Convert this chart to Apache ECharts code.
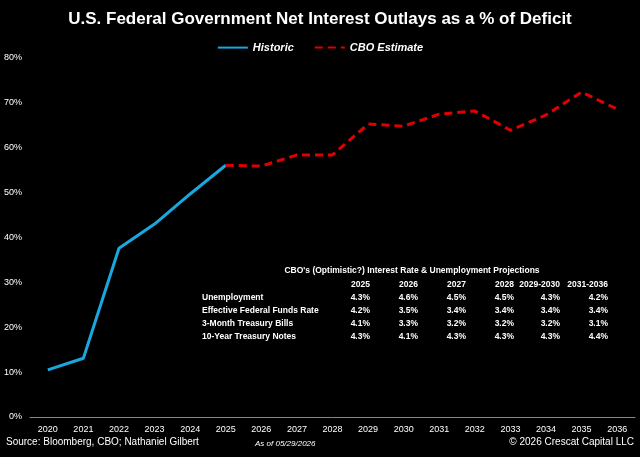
<!DOCTYPE html><html><head><meta charset="utf-8"><script src="https://cdn.jsdelivr.net/npm/echarts@6/dist/echarts.min.js"></script>
<style>body{margin:0;background:#000}#c{width:640px;height:457px}</style></head><body><div id="c"></div><script>
const years=['2020','2021','2022','2023','2024','2025','2026','2027','2028','2029','2030','2031','2032','2033','2034','2035','2036'];
const historic=[10.5,13.1,37.6,43,49.7,56.1,null,null,null,null,null,null,null,null,null,null,null];
const cbo=[null,null,null,null,null,56.1,55.9,58.4,58.4,65.3,64.8,67.5,68.2,63.9,67.3,72.4,68.6];
const tblCols=['2025','2026','2027','2028','2029-2030','2031-2036'];
const tblRows=['Unemployment','Effective Federal Funds Rate','3-Month Treasury Bills','10-Year Treasury Notes'];
const tblVals=[['4.3%','4.6%','4.5%','4.5%','4.3%','4.2%'],['4.2%','3.5%','3.4%','3.4%','3.4%','3.4%'],['4.1%','3.3%','3.2%','3.2%','3.2%','3.1%'],['4.3%','4.1%','4.3%','4.3%','4.3%','4.4%']];
const F='Liberation Sans, sans-serif';
const colX=[370,418,466,514,560,608];
const g=[{type:'text',x:412,y:266,style:{text:"CBO's (Optimistic?) Interest Rate & Unemployment Projections",fill:'#fff',font:'bold 8.5px '+F,align:'center'}}];
tblCols.forEach((c,i)=>g.push({type:'text',x:colX[i],y:280,style:{text:c,fill:'#fff',font:'bold 8.5px '+F,align:'right'}}));
tblRows.forEach((r,j)=>{g.push({type:'text',x:202,y:293+j*13,style:{text:r,fill:'#fff',font:'bold 8.5px '+F}});
 tblVals[j].forEach((v,i)=>g.push({type:'text',x:colX[i],y:293+j*13,style:{text:v,fill:'#fff',font:'bold 8.5px '+F,align:'right'}}));});
g.push({type:'text',x:6,y:437,style:{text:'Source: Bloomberg, CBO; Nathaniel Gilbert',fill:'#fff',font:'10px '+F}});
g.push({type:'text',x:255,y:440,style:{text:'As of 05/29/2026',fill:'#fff',font:'italic 8px '+F}});
g.push({type:'text',x:634,y:437,style:{text:'© 2026 Crescat Capital LLC',fill:'#fff',font:'10px '+F,align:'right'}});
const ch=echarts.init(document.getElementById('c'));
ch.setOption({backgroundColor:'#000',animation:false,
title:{text:'U.S. Federal Government Net Interest Outlays as a % of Deficit',left:'center',top:6,textStyle:{color:'#fff',fontSize:17,fontWeight:'bold',fontFamily:F}},
legend:{top:37,left:'center',itemWidth:30,itemGap:20,itemStyle:{opacity:0},textStyle:{color:'#fff',fontStyle:'italic',fontWeight:'bold',fontSize:11,fontFamily:F},data:['Historic','CBO Estimate']},
grid:{left:30,right:5,top:58,bottom:40},
xAxis:{type:'category',data:years,axisLine:{lineStyle:{color:'#888'}},axisTick:{show:false},axisLabel:{color:'#fff',fontSize:9,fontFamily:F}},
yAxis:{type:'value',min:0,max:80,interval:10,splitLine:{show:false},axisLabel:{color:'#fff',fontSize:9,fontFamily:F,formatter:'{value}%'}},
graphic:g,
series:[{name:'Historic',type:'line',data:historic,symbol:'none',lineStyle:{color:'#1aa7e0',width:3},itemStyle:{color:'#1aa7e0'}},
{name:'CBO Estimate',type:'line',data:cbo,symbol:'none',lineStyle:{color:'#e00000',width:3,type:[8,5]},itemStyle:{color:'#e00000'}}]});
</script></body></html>
